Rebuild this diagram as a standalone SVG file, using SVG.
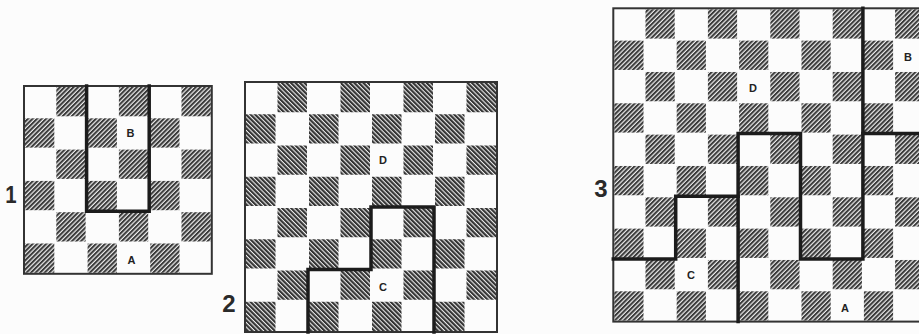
<svg xmlns="http://www.w3.org/2000/svg" xmlns:xlink="http://www.w3.org/1999/xlink" width="919" height="334" viewBox="0 0 919 334">
<style>
.frame{fill:none;stroke:#333;stroke-width:2}
.wall{fill:none;stroke:#1c1c1c;stroke-width:3.5;stroke-linejoin:miter;stroke-linecap:square}
.lbl{font-family:"Liberation Sans",Arial,sans-serif;font-weight:bold;font-size:11px;fill:#222;text-anchor:middle}
.num{font-family:"Liberation Sans",Arial,sans-serif;font-weight:bold;font-size:24px;fill:#2a2a2a;text-anchor:middle}
.h1{fill:url(#hatchF)}
.h2{fill:url(#hatchB)}
</style>
<defs>
<pattern id="hatchF" width="3.2" height="3.2" patternUnits="userSpaceOnUse" patternTransform="rotate(45)">
<rect width="3.2" height="3.2" fill="#ececec"/>
<rect width="2" height="3.2" fill="#3a3a3a"/>
</pattern>
<pattern id="hatchB" width="3.2" height="3.2" patternUnits="userSpaceOnUse" patternTransform="rotate(-45)">
<rect width="3.2" height="3.2" fill="#ececec"/>
<rect width="2.1" height="3.2" fill="#333333"/>
</pattern>
<g id="r1e"><rect class="h1" x="56.3" width="29.3" height="29.3"/><rect class="h1" x="118.9" width="29.3" height="29.3"/><rect class="h1" x="181.5" width="29.3" height="29.3"/></g>
<g id="r1o"><rect class="h1" x="25" width="29.3" height="29.3"/><rect class="h1" x="87.6" width="29.3" height="29.3"/><rect class="h1" x="150.2" width="29.3" height="29.3"/></g>
<g id="r2e"><rect class="h2" x="277.5" width="29.5" height="29.25"/><rect class="h2" x="340.5" width="29.5" height="29.25"/><rect class="h2" x="403.5" width="29.5" height="29.25"/><rect class="h2" x="466.5" width="29.5" height="29.25"/></g>
<g id="r2o"><rect class="h2" x="246" width="29.5" height="29.25"/><rect class="h2" x="309" width="29.5" height="29.25"/><rect class="h2" x="372" width="29.5" height="29.25"/><rect class="h2" x="435" width="29.5" height="29.25"/></g>
<g id="r3e"><rect class="h1" x="645.5" width="29.2" height="29.3"/><rect class="h1" x="707.9" width="29.2" height="29.3"/><rect class="h1" x="770.3" width="29.2" height="29.3"/><rect class="h1" x="832.7" width="29.2" height="29.3"/><rect class="h1" x="895.1" width="29.2" height="29.3"/></g>
<g id="r3o"><rect class="h1" x="614.3" width="29.2" height="29.3"/><rect class="h1" x="676.7" width="29.2" height="29.3"/><rect class="h1" x="739.1" width="29.2" height="29.3"/><rect class="h1" x="801.5" width="29.2" height="29.3"/><rect class="h1" x="863.9" width="29.2" height="29.3"/></g>
</defs>
<rect width="919" height="334" fill="#fcfcfc"/>

<g id="board1">
<use href="#r1e" y="87"/>
<use href="#r1o" y="118.3"/>
<use href="#r1e" y="149.6"/>
<use href="#r1o" y="180.9"/>
<use href="#r1e" y="212.2"/>
<use href="#r1o" y="243.5"/>
<rect class="frame" x="24" y="86" width="187.8" height="187.8"/>
<path class="wall" d="M86.6 86 V211.2 H149.2 V86"/>
<text class="lbl" x="130.5" y="137">B</text>
<text class="lbl" x="131.5" y="264">A</text>
<text class="num" x="11" y="203" transform="translate(11 0) scale(0.85 1) translate(-11 0)">1</text>
</g>

<g id="board2">
<use href="#r2e" y="83"/>
<use href="#r2o" y="114.25"/>
<use href="#r2e" y="145.5"/>
<use href="#r2o" y="176.75"/>
<use href="#r2e" y="208"/>
<use href="#r2o" y="239.25"/>
<use href="#r2e" y="270.5"/>
<use href="#r2o" y="301.75"/>
<rect class="frame" x="245" y="82" width="252" height="250"/>
<path class="wall" d="M308 332 V269.5 H371 V207 H434 V332"/>
<text class="lbl" x="383" y="164">D</text>
<text class="lbl" x="383" y="291">C</text>
<text class="num" x="229" y="312">2</text>
</g>

<g id="board3">
<use href="#r3e" y="9.3"/>
<use href="#r3o" y="40.63"/>
<use href="#r3e" y="71.97"/>
<use href="#r3o" y="103.3"/>
<use href="#r3e" y="134.63"/>
<use href="#r3o" y="165.97"/>
<use href="#r3e" y="197.3"/>
<use href="#r3o" y="228.63"/>
<use href="#r3e" y="259.97"/>
<use href="#r3o" y="291.3"/>
<rect class="frame" x="613.3" y="8.3" width="312" height="313.3"/>
<g id="walls3">
<path class="wall" d="M613.3 258.9 H675.7 V196.3 H738.1"/>
<path class="wall" d="M738.1 321.6 V133.6 H800.5 V258.9 H862.9 V8.3"/>
<path class="wall" d="M862.9 133.6 H921"/>
</g>
<text class="lbl" x="753" y="92">D</text>
<text class="lbl" x="908" y="61">B</text>
<text class="lbl" x="691" y="279">C</text>
<text class="lbl" x="845" y="312">A</text>
<text class="num" x="601" y="197">3</text>
</g>
</svg>
